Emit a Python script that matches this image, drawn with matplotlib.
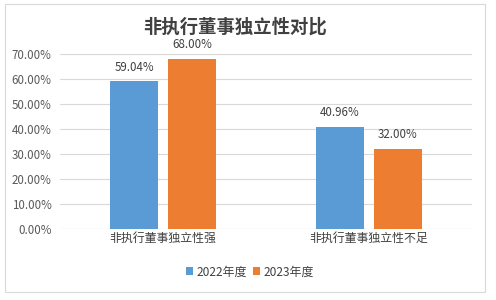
import matplotlib
matplotlib.use("Agg")
import matplotlib.pyplot as plt
from matplotlib.patches import Rectangle
import numpy as np

plt.rcParams['font.family'] = ['Noto Sans CJK SC', 'DejaVu Sans']

title = "非执行董事独立性对比"
categories = ["非执行董事独立性强", "非执行董事独立性不足"]
series_names = ["2022年度", "2023年度"]
values_2022 = [59.04, 40.96]
values_2023 = [68.00, 32.00]
yticks = [0, 10, 20, 30, 40, 50, 60, 70]
colors = ["#5B9BD5", "#ED7D31"]

fig = plt.figure(figsize=(4.96, 3.0), dpi=100)
ax = fig.add_axes([60/496, 1 - 229/300, 412/496, 200/300])

x = np.arange(len(categories))
w = 0.23
gap = 0.05
offs = [-(w + gap) / 2, (w + gap) / 2]
for vals, off, c, name in zip([values_2022, values_2023], offs, colors, series_names):
    bars = ax.bar(x + off, vals, width=w, color=c, label=name, zorder=3)
    for b, v in zip(bars, vals):
        ax.text(b.get_x() + b.get_width() / 2, v + 3.0, f"{v:.2f}%", ha='center', va='bottom',
                fontsize=8.3, color='#404040')

ax.set_xlim(-0.5, 1.5)
ax.set_ylim(0, 80)
ax.set_yticks(yticks)
ax.set_yticklabels([f"{t:.2f}%" for t in yticks], fontsize=8.3, color='#595959')
ax.set_xticks(x)
ax.set_xticklabels(categories, fontsize=8.6, color='#404040')
ax.tick_params(axis='both', length=0)
ax.tick_params(axis='y', pad=6)
ax.tick_params(axis='x', pad=2)
ax.grid(axis='y', color='#D9D9D9', linewidth=0.8, zorder=0)
for s in ax.spines.values():
    s.set_visible(False)
ax.axhline(0, color='#D9D9D9', linewidth=0.8, zorder=1)

fig.text(235/496, 1 - 27/300, title, ha='center', va='center', fontsize=13.2,
         fontweight='bold', color='#404040')

leg = fig.legend(loc='center', bbox_to_anchor=(250/496, 1 - 272/300), ncol=2, frameon=False,
                 fontsize=8.6, handlelength=0.6, handleheight=0.6, handletextpad=0.3,
                 columnspacing=0.5)
for t in leg.get_texts():
    t.set_color('#404040')

fig.patches.append(Rectangle((5/496, 1 - 292/300), 480/496, 288/300, transform=fig.transFigure,
                             fill=False, edgecolor='#D9D9D9', linewidth=0.8))

fig.savefig("out.png", dpi=100, facecolor='white')
